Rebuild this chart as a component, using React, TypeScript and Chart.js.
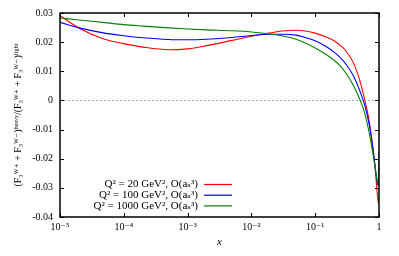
import React, { useEffect, useRef } from "react";
import { Chart, registerables } from "chart.js";

Chart.register(...registerables);

// ---- data ----
const xValues = [
  1e-5, 2e-5, 5e-5, 1e-4, 2e-4, 5e-4, 1e-3, 2e-3, 5e-3, 1e-2, 2e-2, 3e-2,
  5e-2, 7e-2, 0.1, 0.15, 0.2, 0.25, 0.3, 0.4, 0.5, 0.6, 0.7, 0.8, 0.85, 0.9,
  0.93, 0.96, 0.98, 0.99, 1.0,
];
const q20 = [
  0.0291, 0.0248, 0.021, 0.0195, 0.0183, 0.0174, 0.0177, 0.0188, 0.0206,
  0.022, 0.0232, 0.0238, 0.0241, 0.0238, 0.0231, 0.0217, 0.0204, 0.0188,
  0.0171, 0.0128, 0.0068, 0.0, -0.007, -0.016, -0.021, -0.027, -0.031, -0.034,
  -0.0352, -0.035, -0.034,
];
const q100 = [
  0.0268, 0.0249, 0.0231, 0.0222, 0.0215, 0.0209, 0.0208, 0.021, 0.0216,
  0.0223, 0.0227, 0.0227, 0.0224, 0.0216, 0.0205, 0.0184, 0.0165, 0.0146,
  0.0126, 0.0083, 0.0033, -0.0018, -0.0081, -0.0162, -0.021, -0.0255,
  -0.0275, -0.029, -0.0292, -0.027, -0.0177,
];
const q1000 = [
  0.0283, 0.0276, 0.0267, 0.026, 0.0255, 0.0249, 0.0245, 0.0242, 0.0239,
  0.0235, 0.0228, 0.0222, 0.021, 0.0197, 0.018, 0.0157, 0.0137, 0.0117,
  0.0095, 0.005, 0.0003, -0.0045, -0.011, -0.018, -0.0215, -0.025, -0.027,
  -0.0285, -0.029, -0.028, -0.021,
];
const seriesLabels = [
  "Q² = 20 GeV², O(aₛ³)",
  "Q² = 100 GeV², O(aₛ³)",
  "Q² = 1000 GeV², O(aₛ³)",
];
const seriesColors = ["#ff0000", "#0000ff", "#008000"];
const xTickValues = [1e-5, 1e-4, 1e-3, 1e-2, 1e-1, 1];
const xTickLabels = ["10⁻⁵", "10⁻⁴", "10⁻³", "10⁻²", "10⁻¹", "1"];
const yTickValues = [-0.04, -0.03, -0.02, -0.01, 0, 0.01, 0.02, 0.03];
const yTickLabels = ["-0.04", "-0.03", "-0.02", "-0.01", "0", "0.01", "0.02", "0.03"];
const xTitle = "x";
const yTitle = "(F₃ᵂ⁺ + F₃ᵂ⁻)ʰᵉᵃᵛʸ/(F₃ᵂ⁺ + F₃ᵂ⁻)ˡⁱᵍʰᵗ";

const SERIF = "'Liberation Serif', 'DejaVu Serif', serif";

const framePlugin = {
  id: "frame",
  beforeDatasetsDraw(chart: any) {
    const { ctx, chartArea, scales } = chart;
    const y0 = scales.y.getPixelForValue(0);
    ctx.save();
    ctx.strokeStyle = "#999";
    ctx.lineWidth = 0.8;
    ctx.setLineDash([2, 2]);
    ctx.beginPath();
    ctx.moveTo(chartArea.left, y0);
    ctx.lineTo(chartArea.right, y0);
    ctx.stroke();
    ctx.restore();
  },
  afterDraw(chart: any) {
    const { ctx, chartArea, scales } = chart;
    const { left, right, top, bottom } = chartArea;
    ctx.save();
    ctx.strokeStyle = "#000";
    ctx.lineWidth = 1.5;
    ctx.strokeRect(left, top, right - left, bottom - top);
    ctx.lineWidth = 1;
    const tl = 4;
    ctx.beginPath();
    xTickValues.forEach((v) => {
      const px = Math.round(scales.x.getPixelForValue(v)) + 0.5;
      ctx.moveTo(px, bottom);
      ctx.lineTo(px, bottom - tl);
      ctx.moveTo(px, top);
      ctx.lineTo(px, top + tl);
    });
    yTickValues.forEach((v) => {
      const py = Math.round(scales.y.getPixelForValue(v)) + 0.5;
      ctx.moveTo(left, py);
      ctx.lineTo(left + tl, py);
      ctx.moveTo(right, py);
      ctx.lineTo(right - tl, py);
    });
    ctx.stroke();

    // legend (gnuplot style: text right-aligned, then line sample)
    const textRight = 198;
    const lineX0 = 204;
    const lineX1 = 232;
    const rowY0 = 184.5;
    const rowH = 10.7;
    ctx.font = `11px ${SERIF}`;
    ctx.textAlign = "right";
    ctx.textBaseline = "middle";
    chart.data.datasets.forEach((ds: any, i: number) => {
      const y = rowY0 + i * rowH;
      ctx.fillStyle = "#000";
      ctx.fillText(ds.label, textRight, y);
      ctx.strokeStyle = ds.borderColor;
      ctx.lineWidth = 1.2;
      ctx.beginPath();
      ctx.moveTo(lineX0, y);
      ctx.lineTo(lineX1, y);
      ctx.stroke();
    });
    ctx.restore();
  },
};

export default function App() {
  const ref = useRef<HTMLCanvasElement | null>(null);
  useEffect(() => {
    if (!ref.current) return;
    const series = [q20, q100, q1000];
    const chart = new Chart(ref.current, {
      type: "line",
      data: {
        datasets: series.map((s, i) => ({
          label: seriesLabels[i],
          data: xValues.map((x, j) => ({ x, y: s[j] })),
          borderColor: seriesColors[i],
          backgroundColor: seriesColors[i],
          borderWidth: 1.1,
          pointRadius: 0,
          cubicInterpolationMode: "monotone" as const,
          fill: false,
          order: 3 - i,
        })),
      },
      options: {
        animation: false,
        responsive: false,
        maintainAspectRatio: false,
        devicePixelRatio: 1,
        layout: { padding: { left: 0, top: 13, right: 20, bottom: 0 } },
        plugins: { legend: { display: false }, tooltip: { enabled: false } },
        scales: {
          x: {
            type: "logarithmic",
            min: 1e-5,
            max: 1,
            afterBuildTicks: (scale: any) => {
              scale.ticks = xTickValues.map((v) => ({ value: v, major: true }));
            },
            afterFit: (scale: any) => {
              scale.height = 39;
            },
            ticks: {
              autoSkip: false,
              maxRotation: 0,
              padding: 4,
              color: "#000",
              font: { family: SERIF, size: 10 },
              callback: (_v: any, i: number) => xTickLabels[i],
            },
            grid: { display: true, drawOnChartArea: false, drawTicks: false },
            border: { display: false },
            title: {
              display: true,
              text: xTitle,
              color: "#000",
              font: { family: SERIF, size: 11, style: "italic" },
              padding: { top: 0, bottom: 7 },
            },
          },
          y: {
            type: "linear",
            min: -0.04,
            max: 0.03,
            afterBuildTicks: (scale: any) => {
              scale.ticks = yTickValues.map((v) => ({ value: v }));
            },
            afterFit: (scale: any) => {
              scale.width = 60;
            },
            ticks: {
              autoSkip: false,
              padding: 7,
              color: "#000",
              font: { family: SERIF, size: 10 },
              callback: (_v: any, i: number) => yTickLabels[i],
            },
            grid: { display: true, drawOnChartArea: false, drawTicks: false },
            border: { display: false },
            title: {
              display: true,
              text: yTitle,
              color: "#000",
              font: { family: SERIF, size: 10 },
              padding: { top: 12, bottom: 0 },
            },
          },
        },
      },
      plugins: [framePlugin],
    });
    return () => chart.destroy();
  }, []);
  return (
    <div style={{ position: "fixed", left: 0, top: 0, width: 399, height: 256, background: "#fff" }}>
      <canvas ref={ref} width={399} height={256} style={{ width: 399, height: 256 }} />
    </div>
  );
}
